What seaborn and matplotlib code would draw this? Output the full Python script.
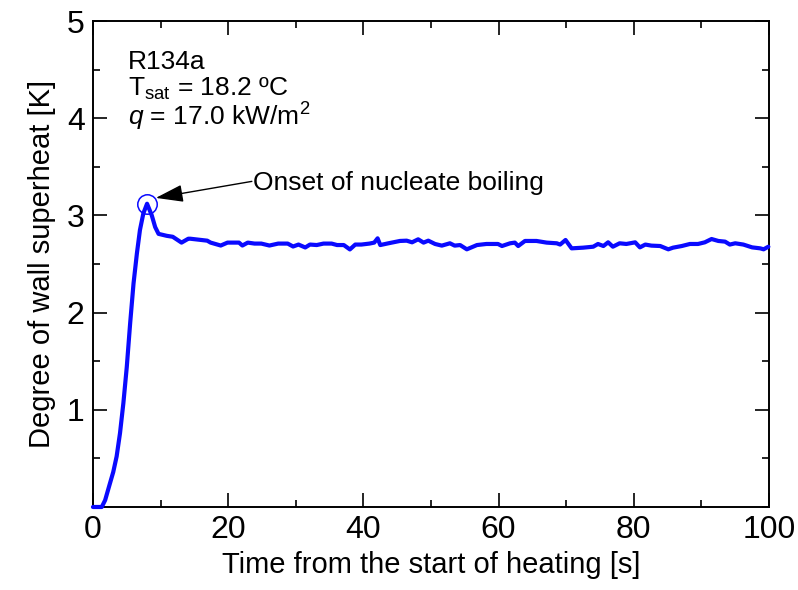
"""
Wall superheat vs. time after start of heating (R134a).
"""

import matplotlib
matplotlib.use("Agg")
import matplotlib.pyplot as plt
from matplotlib.ticker import MultipleLocator
import seaborn as sns
import pandas as pd

# Time [s] and wall superheat [K]
time_s = [0.0, 1.3, 1.8, 2.5, 3.0, 3.5, 4.0, 4.5, 5.0, 5.5, 6.0, 6.5, 6.95, 7.45,
          8.0, 8.7, 9.2, 9.7, 10.9, 11.8, 13.1, 14.1, 14.4, 16.9, 17.4, 18.9,
          19.9, 21.6, 22.1, 22.9, 23.9, 24.9, 26.1, 27.4, 28.8, 29.6, 30.4,
          31.4, 32.1, 33.1, 34.1, 35.3, 36.1, 37.1, 38.0, 38.8, 39.7, 40.9,
          41.6, 42.1, 42.5, 43.7, 45.4, 46.4, 47.2, 48.1, 48.9, 49.6, 50.6,
          51.6, 52.8, 53.5, 54.3, 55.3, 56.8, 58.2, 59.9, 60.5, 61.7, 62.4,
          62.9, 63.9, 65.6, 67.1, 68.6, 69.1, 69.9, 70.8, 72.5, 74.0, 74.7,
          75.5, 76.2, 76.9, 77.9, 78.9, 80.2, 80.9, 81.7, 82.6, 83.9, 85.1,
          85.8, 87.1, 88.3, 89.5, 90.5, 91.5, 92.5, 93.5, 94.2, 95.0, 96.2,
          97.5, 98.7, 99.2, 99.9]
superheat_K = [0.0, 0.0, 0.07, 0.24, 0.36, 0.52, 0.76, 1.07, 1.44, 1.89, 2.30,
               2.61, 2.85, 3.02, 3.12, 3.00, 2.88, 2.81, 2.79, 2.78, 2.72, 2.76,
               2.76, 2.74, 2.72, 2.69, 2.72, 2.72, 2.69, 2.72, 2.71, 2.71, 2.69,
               2.71, 2.71, 2.68, 2.70, 2.67, 2.70, 2.695, 2.71, 2.71, 2.695,
               2.695, 2.65, 2.70, 2.70, 2.71, 2.72, 2.764, 2.695, 2.713, 2.737,
               2.74, 2.723, 2.754, 2.72, 2.74, 2.706, 2.689, 2.713, 2.689,
               2.695, 2.651, 2.695, 2.706, 2.706, 2.685, 2.713, 2.72, 2.685,
               2.737, 2.737, 2.72, 2.713, 2.70, 2.747, 2.661, 2.668, 2.678,
               2.706, 2.685, 2.723, 2.678, 2.713, 2.706, 2.723, 2.671, 2.70,
               2.689, 2.685, 2.651, 2.668, 2.685, 2.706, 2.706, 2.723, 2.757,
               2.737, 2.73, 2.70, 2.713, 2.70, 2.671, 2.661, 2.651, 2.678]

x_ticks = [0, 20, 40, 60, 80, 100]
y_ticks = [1, 2, 3, 4, 5]

df = pd.DataFrame({"time": time_s, "dT": superheat_K})
onset = df.loc[df["dT"].idxmax()]

sns.set_style("ticks")
plt.rcParams["font.family"] = ["Liberation Sans", "DejaVu Sans"]
plt.rcParams["mathtext.fontset"] = "custom"
plt.rcParams["mathtext.rm"] = "Liberation Sans"
plt.rcParams["mathtext.it"] = "Liberation Sans:italic"
for key in ["text.color", "axes.labelcolor", "xtick.color", "ytick.color"]:
    plt.rcParams[key] = "black"

fig = plt.figure(figsize=(7.98, 5.90), dpi=100)
ax = fig.add_axes([0.1165, 0.1407, 0.8472, 0.8237])

sns.lineplot(data=df, x="time", y="dT", ax=ax, color="#0a0aff",
             linewidth=3.0, sort=False, errorbar=None)
# keep the flat start visible on top of the bottom spine
ax.lines[0].set_clip_on(False)
ax.lines[0].set_zorder(4)

# Circle at the onset of nucleate boiling
ax.plot(onset["time"], onset["dT"], marker="o", markersize=14,
        markerfacecolor="none", markeredgecolor="#0a0aff",
        markeredgewidth=1.1, linestyle="none")

ax.annotate("", xy=(9.3, 3.18), xytext=(23.5, 3.35),
            arrowprops=dict(arrowstyle="-|>,head_length=0.85,head_width=0.27",
                            color="black", lw=1.0, mutation_scale=20,
                            shrinkA=0, shrinkB=0))
ax.text(23.7, 3.33, "Onset of nucleate boiling", fontsize=19,
        ha="left", va="center")

ax.text(5.2, 4.51, "R134a", fontsize=19, ha="left", va="baseline")
ax.text(5.2, 4.23, r"T$_{\rm sat}$ = 18.2 ºC", fontsize=19,
        ha="left", va="baseline")
ax.text(5.2, 3.92, r"$q$ = 17.0 kW/m$^{2}$", fontsize=19,
        ha="left", va="baseline")

ax.set_xlim(0, 100)
ax.set_ylim(0, 5)
ax.set_xticks(x_ticks)
ax.set_yticks(y_ticks)
ax.xaxis.set_minor_locator(MultipleLocator(10))
ax.yaxis.set_minor_locator(MultipleLocator(0.5))
ax.tick_params(which="both", direction="in", top=True, right=True,
               width=1.2, color="black", labelsize=23, pad=6)
ax.tick_params(which="major", length=10)
ax.tick_params(which="minor", length=5)
for side in ax.spines.values():
    side.set_linewidth(1.4)
    side.set_color("black")

ax.set_xlabel("Time from the start of heating [s]", fontsize=21, labelpad=4)
ax.set_ylabel("Degree of wall superheat [K]", fontsize=21, labelpad=8)

fig.savefig("out.png", dpi=100)
